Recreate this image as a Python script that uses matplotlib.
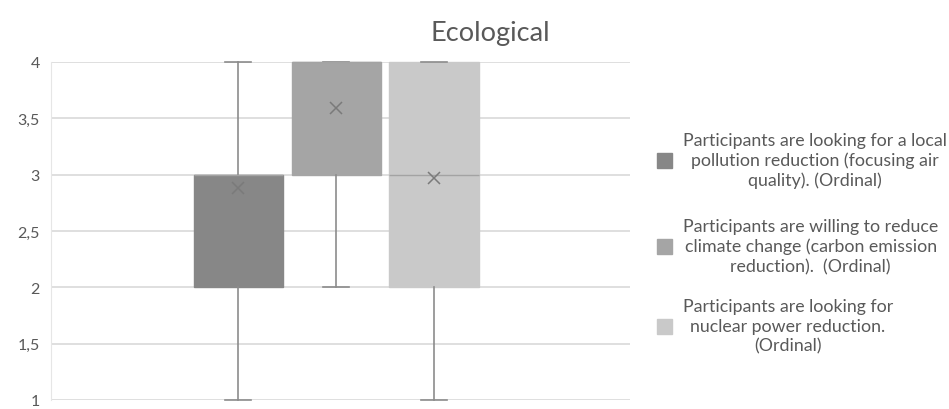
import matplotlib
matplotlib.use('Agg')
import matplotlib.pyplot as plt
from matplotlib.patches import Rectangle

plt.rcParams['font.family'] = ['Lato', 'DejaVu Sans']

# box statistics
labels = ['Participants are looking for a local\npollution reduction (focusing air\nquality). (Ordinal)',
          'Participants are willing to reduce\nclimate change (carbon emission\nreduction).  (Ordinal)',
          'Participants are looking for\nnuclear power reduction.\n(Ordinal)']
whis_low = [1, 2, 1]
q1 = [2, 3, 2]
medians = [3, 4, 3]
q3 = [3, 4, 4]
whis_high = [4, 4, 4]
means = [2.88, 3.59, 2.97]

colors = ['#878787', '#a5a5a5', '#c9c9c9']
yticks = [1, 1.5, 2, 2.5, 3, 3.5, 4]
ytick_labels = ['1', '1,5', '2', '2,5', '3', '3,5', '4']

stats = []
for i in range(len(labels)):
    stats.append({'whislo': whis_low[i], 'q1': q1[i], 'med': medians[i],
                  'q3': q3[i], 'whishi': whis_high[i], 'mean': means[i]})

W, H = 949, 410
fig = plt.figure(figsize=(W/100, H/100), dpi=100)
ax = fig.add_axes([51/W, 1 - 401/H, (630-51)/W, (401-63)/H])

positions = [1, 2, 3]
for i, s in enumerate(stats):
    ax.bxp([s], positions=[positions[i]], widths=0.91, patch_artist=True,
           showmeans=True, showfliers=False,
           boxprops=dict(facecolor=colors[i], edgecolor=colors[i], linewidth=1),
           whiskerprops=dict(color='#8c8c8c', linewidth=1.2),
           capprops=dict(color='#8c8c8c', linewidth=1.2),
           capwidths=0.26,
           medianprops=dict(color='#a3a3a3', linewidth=1),
           meanprops=dict(marker='x', markeredgecolor='#7a7a7a', markersize=9,
                          markeredgewidth=1.1))
for art in ax.get_children():
    try:
        art.set_clip_on(False)
    except Exception:
        pass

ax.set_xlim(1 - 1.91, 5.0)
ax.set_ylim(1, 4)
ax.set_yticks(yticks)
ax.set_yticklabels(ytick_labels)
ax.set_xticks([])
ax.tick_params(axis='y', length=0, pad=8, labelsize=11.5, labelcolor='#595959')
ax.yaxis.grid(True, color='#d9d9d9', linewidth=1.2)
ax.set_axisbelow(True)
for side in ['top', 'right', 'bottom']:
    ax.spines[side].set_visible(False)
ax.spines['left'].set_color('#e6e6e6')

fig.text(490/W, 1 - 34/H, 'Ecological', ha='center', va='center',
         fontsize=19.5, color='#595959')

# legend, Excel style: square on the left, text block with centred lines
legend_y = [161, 247, 327]
for i in range(len(labels)):
    yc = 1 - legend_y[i]/H
    fig.add_artist(Rectangle((657/W, yc - 7.5/H), 15/W, 15/H, transform=fig.transFigure,
                             facecolor=colors[i], edgecolor=colors[i]))
    fig.text(683/W, yc, labels[i], ha='left', va='center', multialignment='center',
             fontsize=12.8, color='#595959', linespacing=1.28)

fig.savefig('out.png', dpi=100)
